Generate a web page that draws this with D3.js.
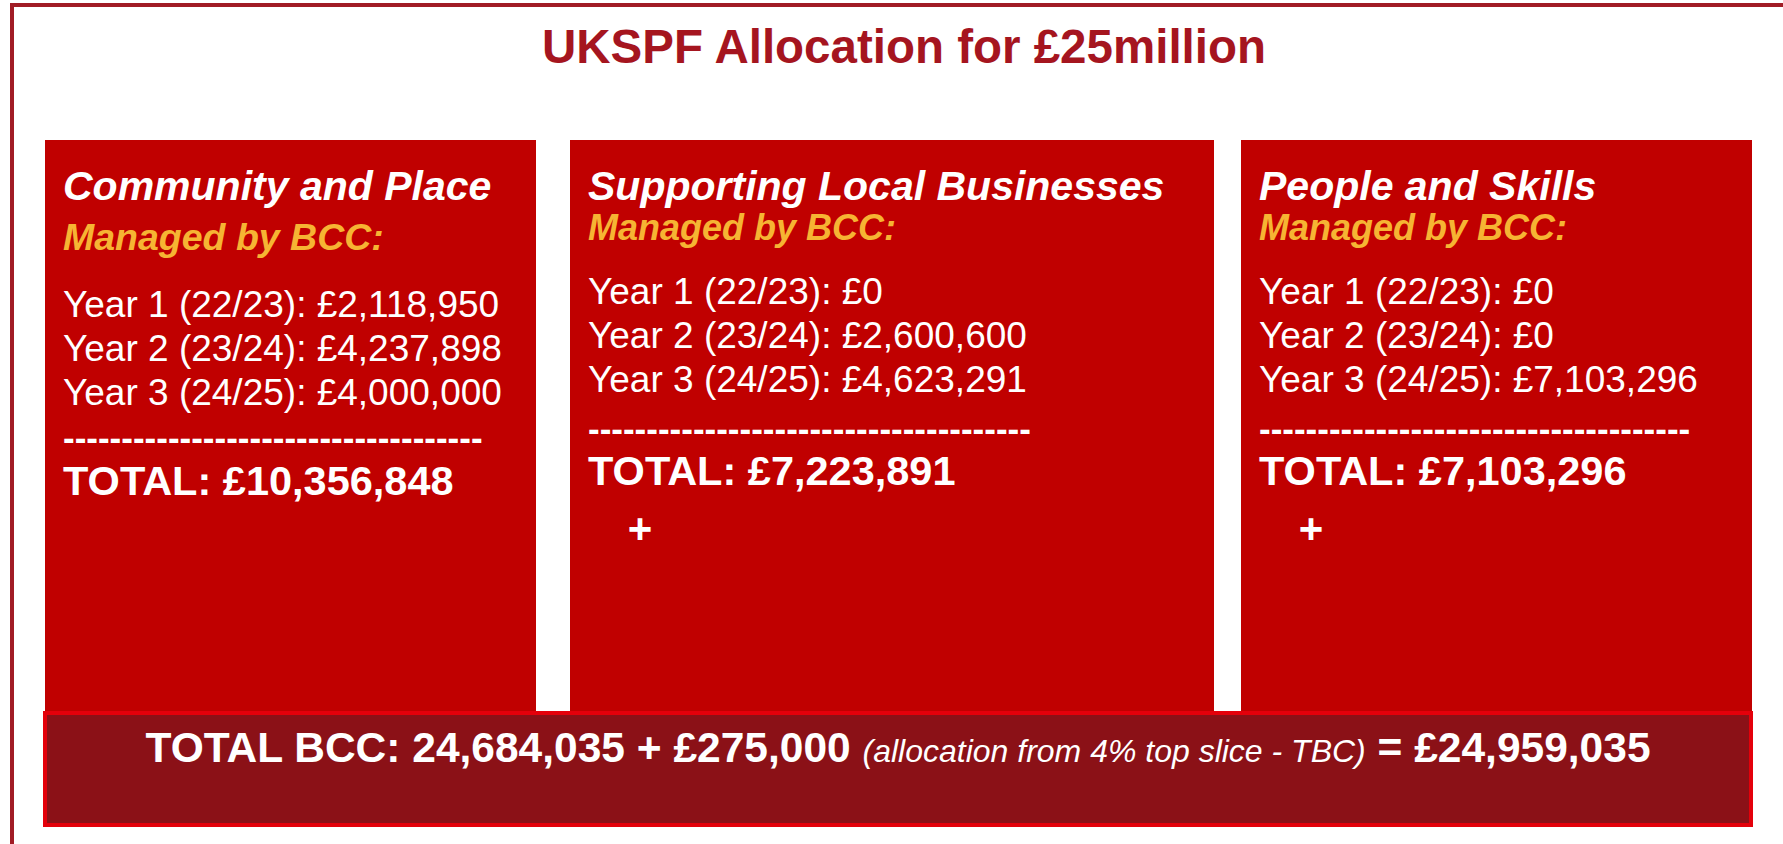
<!DOCTYPE html>
<html>
<head>
<meta charset="utf-8">
<script src="https://cdn.jsdelivr.net/npm/d3@7"></script>
<style>
  body { margin: 0; background: #fff; }
  text { font-family: "Liberation Sans", Arial, sans-serif; }
</style>
</head>
<body>
<div id="chart"></div>
<script>
var width = 1783, height = 844;

// values
var title = "UKSPF Allocation for £25million"
var themes = ["Community and Place", "Supporting Local Businesses", "People and Skills"]
var manager = ["Managed by BCC:", "Managed by BCC:", "Managed by BCC:"]
var yearLabels = ["Year 1 (22/23)", "Year 2 (23/24)", "Year 3 (24/25)"]
var year1 = [2118950, 0, 0]
var year2 = [4237898, 2600600, 0]
var year3 = [4000000, 4623291, 7103296]
var totals = [10356848, 7223891, 7103296]
var showPlus = [false, true, true]
var bccTotal = 24684035
var topSlice = 275000
var topSliceNote = "(allocation from 4% top slice - TBC)"
var grandTotal = 24959035

// layout of the three boxes
var boxLeft = [45, 570, 1241]
var boxRight = [536, 1214, 1752]
var dashCount = [36, 38, 37]

var fmt = d3.format(",")
var money = d => "£" + fmt(d)

var svg = d3.select("#chart").append("svg")
    .attr("width", width)
    .attr("height", height)

// outer frame (only top and left are inside the crop)
svg.append("path")
    .attr("d", "M12," + height + "V5H" + width)
    .attr("fill", "none")
    .attr("stroke", "#a11c25")
    .attr("stroke-width", 4)

svg.append("text")
    .attr("x", 904)
    .attr("y", 63)
    .attr("text-anchor", "middle")
    .style("font-size", "47.5px")
    .style("font-weight", "bold")
    .style("fill", "#a5151f")
    .text(title)

var data = themes.map((t, i) => ({
    theme: t, manager: manager[i],
    years: [year1[i], year2[i], year3[i]],
    total: totals[i], plus: showPlus[i],
    x0: boxLeft[i], x1: boxRight[i], dashes: dashCount[i], first: i == 0
}))

var boxes = svg.selectAll(".box")
    .data(data)
    .enter().append("g")
    .attr("class", "box")
    .attr("transform", d => "translate(" + d.x0 + ",0)")

boxes.append("rect")
    .attr("y", 140)
    .attr("width", d => d.x1 - d.x0)
    .attr("height", 575)
    .attr("fill", "#c00000")

boxes.append("text")
    .attr("x", 18)
    .attr("y", 200)
    .style("font-size", "41px")
    .style("font-weight", "bold")
    .style("font-style", "italic")
    .style("fill", "#fff")
    .text(d => d.theme)

boxes.append("text")
    .attr("x", 18)
    .attr("y", d => d.first ? 250 : 240)
    .style("font-size", d => d.first ? "37.5px" : "36px")
    .style("font-weight", "bold")
    .style("font-style", "italic")
    .style("fill", "#f6b433")
    .text(d => d.manager)

boxes.each(function(d) {
    var g = d3.select(this)
    var y = d3.scaleLinear().domain([0, 1]).range(d.first ? [317, 361] : [304, 348])
    g.selectAll(".yr")
        .data(d.years)
        .enter().append("text")
        .attr("class", "yr")
        .attr("x", 18)
        .attr("y", (v, j) => y(j))
        .style("font-size", "37px")
        .style("fill", "#fff")
        .text((v, j) => yearLabels[j] + ": " + money(v))
})

boxes.append("text")
    .attr("x", 18)
    .attr("y", d => d.first ? 450 : 441)
    .style("font-size", "35px")
    .style("font-weight", "bold")
    .style("fill", "#fff")
    .text(d => "-".repeat(d.dashes))

boxes.append("text")
    .attr("x", 18)
    .attr("y", d => d.first ? 495 : 485)
    .style("font-size", "41.5px")
    .style("font-weight", "bold")
    .style("fill", "#fff")
    .text(d => "TOTAL: " + money(d.total))

boxes.filter(d => d.plus).append("text")
    .attr("x", 70)
    .attr("y", 543)
    .attr("text-anchor", "middle")
    .style("font-size", "42px")
    .style("font-weight", "bold")
    .style("fill", "#fff")
    .text("+")

// bottom bar
svg.append("rect")
    .attr("x", 45)
    .attr("y", 713)
    .attr("width", 1706)
    .attr("height", 112)
    .attr("fill", "#8b1117")
    .attr("stroke", "#e4000a")
    .attr("stroke-width", 4)

var bottom = svg.append("text")
    .attr("x", 898)
    .attr("y", 762)
    .attr("text-anchor", "middle")
    .style("fill", "#fff")

bottom.append("tspan")
    .style("font-size", "42.5px")
    .style("font-weight", "bold")
    .text("TOTAL BCC: " + fmt(bccTotal) + " + " + money(topSlice) + " ")

bottom.append("tspan")
    .style("font-size", "32px")
    .style("font-style", "italic")
    .text(topSliceNote)

bottom.append("tspan")
    .style("font-size", "42.5px")
    .style("font-weight", "bold")
    .text(" = " + money(grandTotal))
</script>
</body>
</html>
